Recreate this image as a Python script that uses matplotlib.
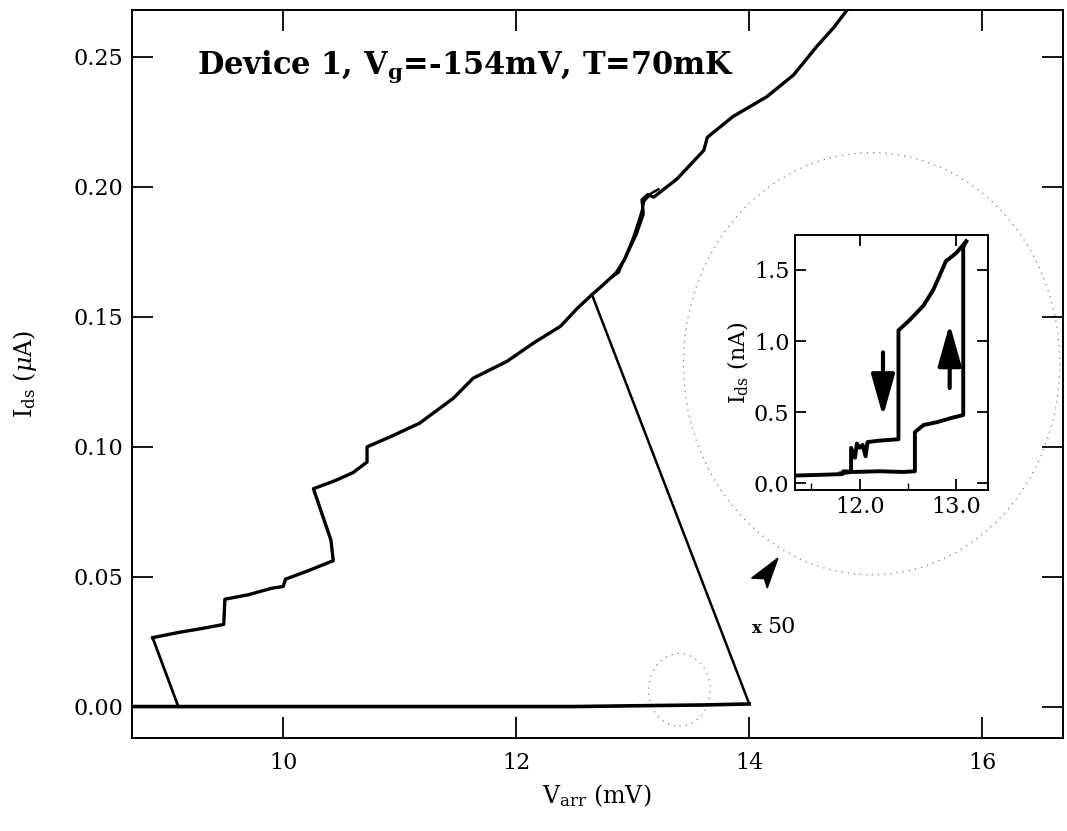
import numpy as np
import matplotlib
matplotlib.use('Agg')
import matplotlib.pyplot as plt
from matplotlib.patches import Ellipse, Polygon

plt.rcParams['font.family'] = ['DejaVu Serif']
plt.rcParams['mathtext.fontset'] = 'dejavuserif'

# main trace: sweep up along zero, then switching line back to the upper branch
base_v = [8.70, 9.50, 10.50, 11.50, 12.50, 13.20, 13.60, 14.00]
base_i = [0.0, 0.0, 0.0, 0.0, 0.0, 0.0004, 0.0006, 0.0010]
jump_v = [14.00, 12.65]
jump_i = [0.0010, 0.1585]
drop_v = [8.88, 9.10]
drop_i = [0.0265, 0.0]

# upper branch (conducting state)
up_v = [8.88, 9.10, 9.30, 9.49, 9.50, 9.70, 9.90, 10.00, 10.02, 10.20, 10.43,
        10.41, 10.26, 10.45, 10.60, 10.72, 10.72, 10.92, 11.17, 11.46, 11.63,
        11.92, 12.15, 12.38, 12.52, 12.65, 12.75, 12.86, 12.93, 12.98, 13.03,
        13.09, 13.08, 13.13, 13.18, 13.38, 13.61, 13.64, 13.86, 14.15, 14.38,
        14.58, 14.72, 14.84]
up_i = [0.0265, 0.0285, 0.0300, 0.0316, 0.0413, 0.0430, 0.0455, 0.0462, 0.0490,
        0.0520, 0.0561, 0.0640, 0.0838, 0.0870, 0.0900, 0.0941, 0.0999, 0.1038,
        0.1090, 0.1186, 0.1263, 0.1328, 0.1399, 0.1463, 0.1530, 0.1585, 0.1624,
        0.1670, 0.1720, 0.1770, 0.1817, 0.1895, 0.1950, 0.1970, 0.1960, 0.2030,
        0.2140, 0.2190, 0.2270, 0.2346, 0.2430, 0.2540, 0.2610, 0.2680]
# second pass where the traces split into small loops
loop_v = [12.80, 12.88, 12.95, 13.00, 13.06, 13.10, 13.16, 13.22]
loop_i = [0.1645, 0.1670, 0.1745, 0.1800, 0.1880, 0.1945, 0.1975, 0.1990]

# inset (x50), current in nA
ins_up_v = [11.33, 11.60, 11.82, 11.83, 11.95, 12.20, 12.45, 12.57, 12.57,
            12.66, 12.80, 12.95, 13.07, 13.07, 13.10]
ins_up_i = [0.055, 0.060, 0.065, 0.085, 0.080, 0.085, 0.080, 0.085, 0.36,
            0.41, 0.43, 0.46, 0.48, 1.66, 1.70]
ins_dn_v = [13.10, 13.00, 12.89, 12.80, 12.76, 12.66, 12.52, 12.40, 12.40,
            12.20, 12.08, 12.06, 12.03, 12.00, 11.97, 11.95, 11.91, 11.91, 11.80]
ins_dn_i = [1.70, 1.62, 1.56, 1.42, 1.36, 1.25, 1.15, 1.075, 0.31,
            0.30, 0.29, 0.19, 0.27, 0.25, 0.28, 0.18, 0.25, 0.08, 0.07]

xticks = [10, 12, 14, 16]
yticks = [0.00, 0.05, 0.10, 0.15, 0.20, 0.25]
ins_xticks = [12.0, 13.0]
ins_yticks = [0.0, 0.5, 1.0, 1.5]

fig = plt.figure(figsize=(10.67, 8.31), dpi=100)
ax = fig.add_axes([0.1234, 0.1116, 0.8726, 0.8764])

ax.plot(base_v, base_i, color='k', lw=2.6)
ax.plot(jump_v, jump_i, color='k', lw=1.8)
ax.plot(drop_v, drop_i, color='k', lw=2.0)
ax.plot(up_v, up_i, color='k', lw=2.4)
ax.plot(loop_v, loop_i, color='k', lw=1.8)

ax.set_xlim(8.70, 16.69)
ax.set_ylim(-0.0122, 0.268)
ax.set_xticks(xticks)
ax.set_xticklabels([str(t) for t in xticks])
ax.set_yticks(yticks)
ax.set_yticklabels(['%.2f' % t for t in yticks])
ax.tick_params(direction='in', length=15, width=1.3, labelsize=16,
               top=True, right=True)
ax.tick_params(axis='x', pad=10)
ax.tick_params(axis='y', pad=6)
for s in ax.spines.values():
    s.set_linewidth(1.4)
ax.set_xlabel(r'V$_\mathrm{arr}$ (mV)', fontsize=17)
ax.set_ylabel(r'I$_\mathrm{ds}$ ($\mu$A)', fontsize=17)
ax.xaxis.set_label_coords(0.5, -0.06)
ax.yaxis.set_label_coords(-0.100, 0.5)

ax.text(9.26, 0.246, r'Device 1, V$_\mathbf{g}$=-154mV, T=70mK',
        fontsize=22, fontweight='bold', va='center', ha='left')

# dotted magnification circles
ax.add_patch(Ellipse((13.40, 0.0064), 0.53, 0.028, fill=False, ls=(0, (1, 4)),
                     lw=0.9, ec='0.5'))
ax.add_patch(Ellipse((15.05, 0.1319), 3.23, 0.1624, fill=False, ls=(0, (1, 4)),
                     lw=0.9, ec='0.5', clip_on=False))
head = [(14.246, 0.0571), (14.02, 0.0494), (14.13, 0.0492), (14.154, 0.0456)]
ax.add_patch(Polygon(head, closed=True, fc='k', ec='k'))
ax.text(14.02, 0.0300, 'x', fontsize=12, fontweight='bold', va='center', ha='left')
ax.text(14.15, 0.0307, '50', fontsize=16, va='center', ha='left')

# inset
axi = fig.add_axes([0.7451, 0.4103, 0.1812, 0.3069])
axi.plot(ins_up_v, ins_up_i, color='k', lw=2.8)
axi.plot(ins_dn_v, ins_dn_i, color='k', lw=2.8)
axi.set_xlim(11.33, 13.33)
axi.set_ylim(-0.047, 1.745)
axi.set_xticks(ins_xticks)
axi.set_xticklabels(['%.1f' % t for t in ins_xticks])
axi.set_xticks([11.5, 12.5], minor=True)
axi.set_yticks(ins_yticks)
axi.set_yticklabels(['%.1f' % t for t in ins_yticks])
axi.tick_params(direction='in', length=8, width=1.3, labelsize=16,
                top=True, right=True, pad=4)
axi.tick_params(which='minor', direction='in', length=5, width=1.0)
for s in axi.spines.values():
    s.set_linewidth(1.4)
axi.set_ylabel(r'I$_\mathrm{ds}$ (nA)', fontsize=16, labelpad=2)
axi.annotate('', xy=(12.24, 0.47), xytext=(12.24, 0.92),
             arrowprops=dict(arrowstyle='-|>,head_length=1.6,head_width=0.45',
                             lw=3, color='k', mutation_scale=16, shrinkA=0, shrinkB=0))
axi.annotate('', xy=(12.93, 1.12), xytext=(12.93, 0.67),
             arrowprops=dict(arrowstyle='-|>,head_length=1.6,head_width=0.45',
                             lw=3, color='k', mutation_scale=16, shrinkA=0, shrinkB=0))

plt.savefig('out.png', dpi=100)
